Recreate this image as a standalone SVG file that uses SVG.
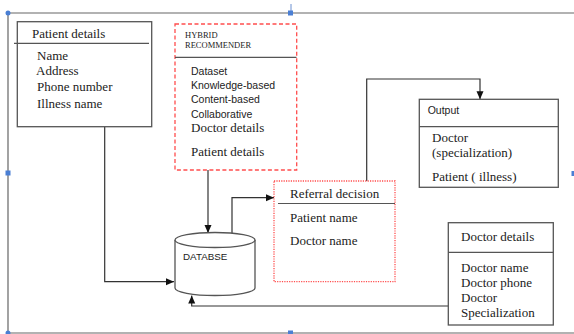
<svg xmlns="http://www.w3.org/2000/svg" width="574" height="334" viewBox="0 0 574 334">
<style>
.box{fill:#fff;stroke:#555;stroke-width:1.3}
.hdr{stroke:#555;stroke-width:1.2}
.ser{font-family:"Liberation Serif","Times New Roman",serif;font-size:13px;fill:#222}
.sans{font-family:"Liberation Sans",Arial,sans-serif;font-size:10.5px;fill:#222}
.con{fill:none;stroke:#333;stroke-width:1.2}
.frame{fill:none;stroke:#666;stroke-width:1.2}
.hdl{fill:#4a7fd4}
</style>
<defs>
<marker id="ah" markerWidth="8" markerHeight="8" viewBox="0 0 8 8" refX="8" refY="4" orient="auto" markerUnits="userSpaceOnUse">
<path d="M0,0.5 L8,4 L0,7.5 Z" fill="#111"/>
</marker>
</defs>
<rect width="574" height="334" fill="#fff"/>
<g id="frame">
<path class="frame" d="M574,13 L8,13 L8,333 L574,333"/>
<line x1="291" y1="4" x2="291" y2="13" stroke="#6b8fd0" stroke-width="1"/>
<circle class="hdl" cx="8" cy="13" r="2.5"/>
<rect class="hdl" x="288" y="10.5" width="5" height="5"/>
<rect class="hdl" x="5.5" y="170.5" width="5" height="5"/>
<rect class="hdl" x="288" y="330.5" width="5" height="5"/>
<circle class="hdl" cx="8" cy="333" r="2.5"/>
<rect class="hdl" x="571.5" y="171" width="3" height="5"/>
</g>
<g id="connectors">
<path class="con" d="M104.7,126.7 V281.7 H174" marker-end="url(#ah)"/>
<path class="con" d="M208,170 V233" marker-end="url(#ah)"/>
<path class="con" d="M232,237 V197.7 H274" marker-end="url(#ah)"/>
<path class="con" d="M366.7,181 V79 H480 V99.3" marker-end="url(#ah)"/>
<path class="con" d="M448.3,306 H191.7 V295.5" marker-end="url(#ah)"/>
</g>
<g id="patient-details">
<rect class="box" x="17.3" y="21.7" width="134.4" height="105"/>
<line class="hdr" x1="14" y1="43.3" x2="149" y2="43.3"/>
<text class="ser" x="32" y="37.5">Patient details</text>
<text class="ser" x="37" y="59.5">Name</text>
<text class="ser" x="36" y="74.5">Address</text>
<text class="ser" x="37" y="90.5">Phone number</text>
<text class="ser" x="37" y="107.5">Illness name</text>
</g>
<g id="hybrid-recommender">
<rect x="175" y="24" width="121.7" height="146" fill="#fff" stroke="#ff4d4d" stroke-width="1.3" stroke-dasharray="4,2.5"/>
<line class="hdr" x1="175" y1="57.3" x2="296.5" y2="57.3"/>
<text font-family="Liberation Serif,serif" font-size="8.5" fill="#222" x="185" y="38">HYBRID</text>
<text font-family="Liberation Serif,serif" font-size="8.5" fill="#222" x="185" y="48">RECOMMENDER</text>
<text class="sans" x="191" y="75">Dataset</text>
<text class="sans" x="191" y="89">Knowledge-based</text>
<text class="sans" x="191" y="103">Content-based</text>
<text class="sans" x="191" y="118">Collaborative</text>
<text class="ser" x="191" y="132">Doctor details</text>
<text class="ser" x="191" y="156">Patient details</text>
</g>
<g id="database">
<path d="M175,240 V288 A40,7.5 0 0 0 255,288 V240" fill="#fff" stroke="#555" stroke-width="1.3"/>
<ellipse cx="215" cy="240" rx="40" ry="7.5" fill="#fff" stroke="#555" stroke-width="1.3"/>
<text font-family="Liberation Sans,Arial,sans-serif" font-size="9.8" fill="#222" x="183" y="260">DATABSE</text>
</g>
<g id="referral-decision">
<rect x="274" y="181" width="121" height="100.7" fill="#fff" stroke="#ff4d4d" stroke-width="1.3" stroke-dasharray="1.2,1.2"/>
<line class="hdr" x1="278" y1="203.5" x2="395" y2="203.5"/>
<text class="ser" x="290" y="198">Referral decision</text>
<text class="ser" x="290" y="222">Patient name</text>
<text class="ser" x="290" y="245">Doctor name</text>
</g>
<g id="output">
<rect class="box" x="419.3" y="99.3" width="139" height="88"/>
<line class="hdr" x1="419.3" y1="126.7" x2="558.3" y2="126.7"/>
<text class="sans" x="427.7" y="114">Output</text>
<text class="ser" x="432" y="142">Doctor</text>
<text class="ser" x="432" y="157">(specialization)</text>
<text class="ser" x="432" y="180.5">Patient ( illness)</text>
</g>
<g id="doctor-details">
<rect class="box" x="448.3" y="222.7" width="105" height="102.3"/>
<line class="hdr" x1="448.3" y1="252.3" x2="553.3" y2="252.3"/>
<text class="ser" x="461" y="241">Doctor details</text>
<text class="ser" x="461" y="272">Doctor name</text>
<text class="ser" x="461" y="287">Doctor phone</text>
<text class="ser" x="461" y="301.5">Doctor</text>
<text class="ser" x="461" y="316.5">Specialization</text>
</g>
</svg>
